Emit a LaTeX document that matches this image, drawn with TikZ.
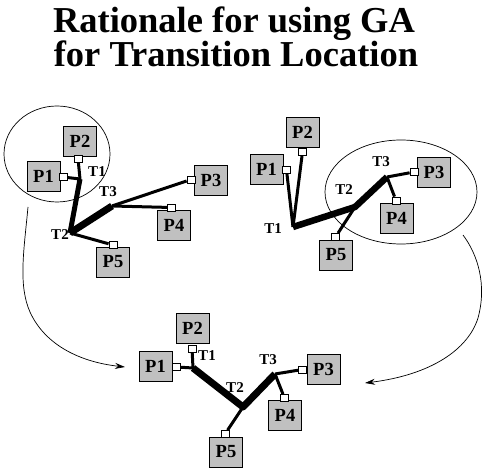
\documentclass[tikz,border=0pt]{standalone}
\usepackage{fontspec}
\setmainfont{Liberation Serif}
\usetikzlibrary{arrows.meta,shapes.geometric}
\definecolor{boxgray}{HTML}{C0C0C0}
\begin{document}
\begin{tikzpicture}[x=1pt,y=-1pt,
  pbox/.style={draw,line width=0.8pt,fill=boxgray,minimum width=33pt,minimum height=30pt,inner sep=0pt,font=\fontsize{18.5}{18.5}\selectfont\bfseries},
  psq/.style={draw,line width=0.8pt,fill=white,minimum width=8pt,minimum height=7pt,inner sep=0pt},
  tlab/.style={inner sep=0pt,font=\fontsize{15}{15}\selectfont\bfseries},
  wire/.style={line width=3pt},
  trunk/.style={line width=6.5pt,line join=round},
  group/.style={line width=0.7pt},
  flow/.style={line width=0.7pt,-{Stealth[length=10pt,width=6pt]}}
]
\useasboundingbox (0,0) rectangle (490,470);
\fill[white] (0,0) rectangle (490,470);

% title
\node[anchor=base,inner sep=0pt,font=\fontsize{36.5}{36.5}\selectfont\bfseries] (title1) at (234,33) {Rationale for using GA};
\node[anchor=base,inner sep=0pt,font=\fontsize{36.5}{36.5}\selectfont\bfseries] (title2) at (236,67) {for Transition Location};

% ---------- left group ----------
\node[pbox] (aP1) at (43.5,176) {P1};
\node[pbox] (aP2) at (80,141) {P2};
\node[pbox] (aP3) at (211,180) {P3};
\node[pbox] (aP4) at (174,225) {P4};
\node[pbox] (aP5) at (113,262) {P5};
\node[psq] (aS1) at (63,177) {};
\node[psq] (aS2) at (78,158.5) {};
\node[psq] (aS3) at (191,179.5) {};
\node[psq] (aS4) at (171.5,207.5) {};
\node[psq] (aS5) at (113,245) {};
\coordinate (aT1) at (80,179);
\coordinate (aT2) at (70,233);
\coordinate (aT3) at (112,206);
\draw[line width=5pt,line join=round] (aT1) -- (aT2);
\draw[trunk,line width=7pt] (aT2) -- (aT3);
\draw[wire] (aS1) -- (aT1);
\draw[wire] (aS2) -- (aT1);
\draw[wire] (aT3) -- (aS3);
\draw[wire] (aT3) -- (aS4);
\draw[wire] (aT2) -- (aS5);
\node[tlab] (aL1) at (97,172) {T1};
\node[tlab] (aL2) at (60,235) {T2};
\node[tlab] (aL3) at (108,192) {T3};
\node[group,draw,ellipse,minimum width=106pt,minimum height=96pt,inner sep=0pt] (aE) at (57,154) {};

% ---------- right group ----------
\node[pbox] (bP1) at (266.5,169) {P1};
\node[pbox] (bP2) at (302.5,132) {P2};
\node[pbox] (bP3) at (434,172.5) {P3};
\node[pbox] (bP4) at (396.5,218) {P4};
\node[pbox] (bP5) at (336,255) {P5};
\node[psq] (bS1) at (286.5,170) {};
\node[psq] (bS2) at (302.5,152) {};
\node[psq] (bS3) at (414,172) {};
\node[psq] (bS4) at (396,200.5) {};
\node[psq] (bS5) at (335.5,237) {};
\coordinate (bT1) at (293,227);
\coordinate (bT2) at (355,207);
\coordinate (bT3) at (387,177);
\draw[trunk] (bT1) -- (bT2) -- (bT3);
\draw[wire] (bS1) -- (bT1);
\draw[wire] (bS2) -- (bT1);
\draw[wire] (bT3) -- (bS3);
\draw[wire] (bT3) -- (bS4);
\draw[wire] (bT2) -- (bS5);
\node[tlab] (bL1) at (273,229) {T1};
\node[tlab] (bL2) at (344,190) {T2};
\node[tlab] (bL3) at (381,162) {T3};
\node[group,draw,ellipse,minimum width=152pt,minimum height=104pt,inner sep=0pt] (bE) at (401,192) {};

% ---------- bottom group ----------
\node[pbox] (cP1) at (155.5,366.5) {P1};
\node[pbox] (cP2) at (192.5,328) {P2};
\node[pbox] (cP3) at (323.5,369.5) {P3};
\node[pbox] (cP4) at (285,415.5) {P4};
\node[pbox] (cP5) at (226,452) {P5};
\node[psq] (cS1) at (176.5,367) {};
\node[psq] (cS2) at (192,348.5) {};
\node[psq] (cS3) at (302.5,369.5) {};
\node[psq] (cS4) at (284.5,398) {};
\node[psq] (cS5) at (225,434) {};
\coordinate (cT1) at (193,368);
\coordinate (cT2) at (243,407);
\coordinate (cT3) at (275,374);
\draw[trunk,line width=7pt] (cT1) -- (cT2) -- (cT3);
\draw[wire] (cS1) -- (cT1);
\draw[wire] (cS2) -- (cT1);
\draw[wire] (cT3) -- (cS3);
\draw[wire] (cT3) -- (cS4);
\draw[wire] (cT2) -- (cS5);
\node[tlab] (cL1) at (207,356) {T1};
\node[tlab] (cL2) at (235,388) {T2};
\node[tlab] (cL3) at (268,360) {T3};

% ---------- flow arrows ----------
\coordinate (aOut) at (28,207);
\coordinate (aIn) at (125,367);
\coordinate (bOut) at (463,235);
\coordinate (bIn) at (365,383);
\draw[flow] (aOut) .. controls (24,250) and (18,285) .. (30,312) .. controls (45,345) and (80,362) .. (aIn);
\draw[flow] (bOut) .. controls (478,255) and (487,285) .. (478,318) .. controls (468,350) and (430,375) .. (bIn);
\end{tikzpicture}
\end{document}
